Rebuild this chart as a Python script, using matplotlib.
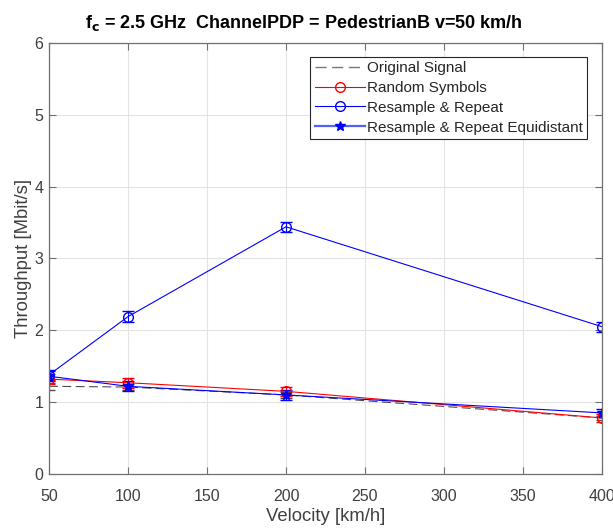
import matplotlib
matplotlib.use("Agg")
import matplotlib.pyplot as plt
from matplotlib.lines import Line2D

plt.rcParams['font.family'] = ['Liberation Sans', 'DejaVu Sans']

velocity = [50, 100, 200, 400]
original = [1.22, 1.21, 1.10, 0.78]
original_err = [0.05, 0.04, 0.04, 0.03]
random_sym = [1.32, 1.27, 1.15, 0.78]
random_err = [0.07, 0.07, 0.06, 0.05]
resample = [1.38, 2.19, 3.44, 2.05]
resample_err = [0.07, 0.08, 0.07, 0.07]
equidist = [1.36, 1.22, 1.10, 0.85]
equidist_err = [0.07, 0.07, 0.07, 0.06]

text_col = '#404040'
axis_col = '#707070'

fig = plt.figure(figsize=(6.13, 5.29), dpi=100)
ax = fig.add_axes([0.080, 0.104, 0.902, 0.815])

dash = (0, (8, 4))
ax.errorbar(velocity, original, yerr=original_err, color='k', linestyle=dash,
            linewidth=0.8, capsize=4, alpha=0.7)
ax.errorbar(velocity, random_sym, yerr=random_err, color='red', marker='o', markersize=7,
            markerfacecolor='none', linewidth=0.8, capsize=4)
ax.errorbar(velocity, resample, yerr=resample_err, color='blue', marker='o', markersize=7,
            markerfacecolor='none', linewidth=0.8, capsize=4)
ax.errorbar(velocity, equidist, yerr=equidist_err, color='blue', marker='*', markersize=7,
            linewidth=0.8, capsize=4)

handles = [
    Line2D([], [], color='#555555', linestyle=dash, linewidth=1.0, alpha=0.8),
    Line2D([], [], color='red', marker='o', markersize=7, markerfacecolor='none', linewidth=0.8),
    Line2D([], [], color='blue', marker='o', markersize=7, markerfacecolor='none', linewidth=0.8),
    Line2D([], [], color='#5060ff', marker='*', markersize=7, markeredgecolor='blue',
           markerfacecolor='blue', linewidth=1.6),
]
labels = ['Original Signal', 'Random Symbols', 'Resample & Repeat',
          'Resample & Repeat Equidistant']

ax.set_xlim(50, 400)
ax.set_ylim(0, 6)
ax.set_xticks([50, 100, 150, 200, 250, 300, 350, 400])
ax.set_yticks([0, 1, 2, 3, 4, 5, 6])
ax.grid(color='#e3e3e3', linewidth=0.8)
ax.set_axisbelow(True)
ax.tick_params(direction='in', length=5, labelsize=11.5, colors=axis_col,
               labelcolor=text_col, top=True, right=True)
ax.tick_params(axis='x', pad=11)
ax.tick_params(axis='y', pad=4)
for s in ax.spines.values():
    s.set_color(axis_col)
    s.set_linewidth(0.9)

ax.set_xlabel('Velocity [km/h]', fontsize=13.3, color=text_col, labelpad=3)
ax.set_ylabel('Throughput [Mbit/s]', fontsize=13.3, color=text_col, labelpad=2)
ax.set_title(r'f$_\mathbf{c}$ = 2.5 GHz  ChannelPDP = PedestrianB v=50 km/h',
             fontsize=13, fontweight='bold', pad=11, x=0.46)

leg = ax.legend(handles, labels, loc='upper right', bbox_to_anchor=(0.973, 0.968), fontsize=11,
                fancybox=False, edgecolor='#262626', handlelength=3.3,
                handletextpad=0.1, borderpad=0.3, labelspacing=0.38, borderaxespad=0,
                framealpha=1)
leg.get_frame().set_linewidth(0.8)
for t in leg.get_texts():
    t.set_color('#262626')

fig.savefig('out.png', dpi=100)
